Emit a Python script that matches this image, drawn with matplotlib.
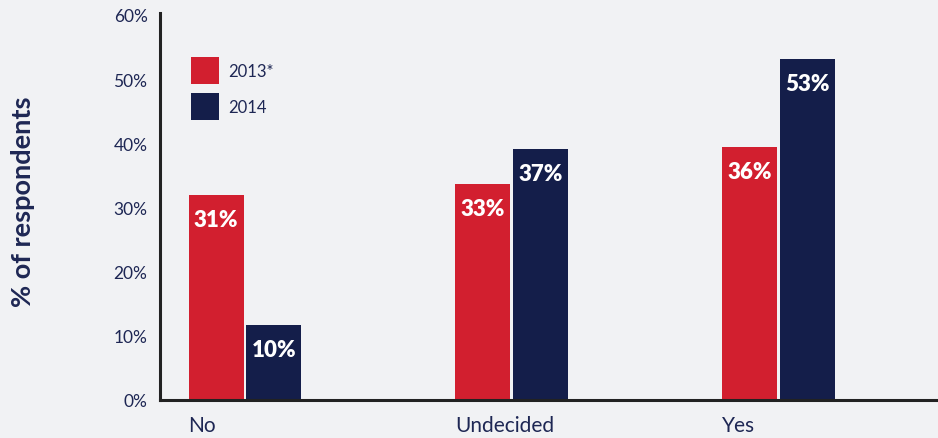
import numpy as np
import matplotlib
matplotlib.use('Agg')
import matplotlib.pyplot as plt

categories = ['No', 'Undecided', 'Yes']
series = ['2013*', '2014']
# bar heights as drawn in the chart (%)
vals_2013 = [31.9, 33.6, 39.4]
vals_2014 = [11.7, 39.1, 53.1]
# printed labels
labels_2013 = ['31%', '33%', '36%']
labels_2014 = ['10%', '37%', '53%']
yticks = [0, 10, 20, 30, 40, 50, 60]

red = '#D21F2F'
navy = '#141E4A'
bg = '#F1F2F4'
txt = '#1E2754'

plt.rcParams['font.family'] = ['Lato', 'DejaVu Sans']

fig = plt.figure(figsize=(9.38, 4.39), dpi=100, facecolor=bg)
ax = fig.add_axes([160/938, 38/439, 776/938, 387/439])
ax.set_facecolor(bg)

x = np.arange(len(categories))
w = 0.206
off = 0.108
b1 = ax.bar(x - off, vals_2013, w, color=red, label=series[0])
b2 = ax.bar(x + off, vals_2014, w, color=navy, label=series[1])

for bars, labs in [(b1, labels_2013), (b2, labels_2014)]:
    for b, l in zip(bars, labs):
        ax.annotate(l, (b.get_x() + b.get_width()/2, b.get_height()),
                    xytext=(0, -17.5), textcoords='offset points',
                    ha='center', va='center', color='white',
                    fontsize=16, fontweight='heavy')

ax.set_xlim(-0.318, 2.59)
ax.set_ylim(0, 60.3)
ax.set_yticks(yticks)
ax.set_yticklabels(['%d%%' % t for t in yticks], fontsize=12.5, color=txt)
ax.set_xticks(x - off - w/2)
ax.set_xticklabels(categories, ha='left', fontsize=15, color=txt)
ax.tick_params(length=0)
ax.tick_params(axis='y', pad=9)
ax.tick_params(axis='x', pad=11)

for s in ['top', 'right']:
    ax.spines[s].set_visible(False)
for s in ['left', 'bottom']:
    ax.spines[s].set_color('#222222')
    ax.spines[s].set_linewidth(2.2)

ax.set_ylabel('% of respondents', fontsize=19.5, fontweight='bold', color=txt)
ax.yaxis.set_label_coords(-0.161, 0.514)

leg = ax.legend(loc='upper left', bbox_to_anchor=(0.04, 0.886), frameon=False,
                borderpad=0, borderaxespad=0, fontsize=12,
                handlelength=1.65, handleheight=2.1, labelspacing=0.55,
                handletextpad=0.6)
for t in leg.get_texts():
    t.set_color(txt)

fig.savefig('out.png', dpi=100, facecolor=bg)
